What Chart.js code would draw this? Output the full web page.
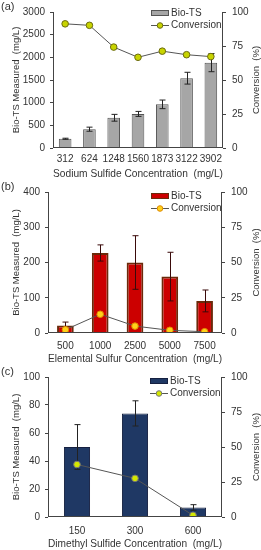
<!DOCTYPE html>
<html><head><meta charset="utf-8">
<script src="https://cdn.jsdelivr.net/npm/chart.js@4"></script>
<style>
html,body{margin:0;padding:0;background:#fff;width:261px;height:550px;overflow:hidden;}
.p{position:absolute;left:0;width:261px;}
</style></head><body>
<div class="p" style="top:0;height:180px"><canvas id="ca" width="261" height="180"></canvas></div>
<div class="p" style="top:180px;height:185px"><canvas id="cb" width="261" height="185"></canvas></div>
<div class="p" style="top:365px;height:185px"><canvas id="cc" width="261" height="185"></canvas></div>
<script>
// Panel (a)
const catsA = ['312','624','1248','1560','1873','3122','3902'];
const bioA = [204, 415, 667, 752, 963, 1540, 1883];
const errA = [12, 45, 75, 55, 95, 130, 200];
const convA = [91.3, 90.2, 74.2, 66.7, 71.2, 68.6, 67.2];
const ticksA = [0, 500, 1000, 1500, 2000, 2500, 3000];
// Panel (b)
const catsB = ['500','1000','2500','5000','7500'];
const bioB = [21, 227, 200, 160, 91];
const errB = [10, 23, 76, 69, 31];
const convB = [2.3, 13.3, 4.9, 1.9, 0.9];
const ticksB = [0, 100, 200, 300, 400];
// Panel (c)
const catsC = ['150','300','600'];
const bioC = [50, 74, 6.8];
const errC = [16, 9, 2];
const convC = [37.5, 27.6, 1.2];
const ticksC = [0, 20, 40, 60, 80, 100];
const ticksConv = [0, 25, 50, 75, 100];

const FONT = 'Liberation Sans, Arial, sans-serif';
const TXT = '#333';

function make(id, cfg) {
  const W = 261, H = cfg.H;
  const errPlugin = {
    id: 'err',
    afterDatasetDraw(chart, args) {
      if (args.index !== 0) return;
      const ctx = chart.ctx, ys = chart.scales.y;
      ctx.save();
      ctx.strokeStyle = cfg.errColor; ctx.lineWidth = 1;
      args.meta.data.forEach((el, i) => {
        const x = Math.round(el.x) + 0.5;
        const v = cfg.bio[i], e = cfg.err[i];
        const yt = ys.getPixelForValue(v + e), yb = ys.getPixelForValue(v - e);
        ctx.beginPath();
        ctx.moveTo(x, yt); ctx.lineTo(x, yb);
        ctx.moveTo(x - 3, yt); ctx.lineTo(x + 3, yt);
        ctx.moveTo(x - 3, yb); ctx.lineTo(x + 3, yb);
        ctx.stroke();
      });
      ctx.restore();
    }
  };
  const deco = {
    id: 'deco',
    afterDraw(chart) {
      const ctx = chart.ctx, a = chart.chartArea;
      ctx.save();
      ctx.fillStyle = TXT;
      ctx.font = '11px ' + FONT;
      ctx.textBaseline = 'middle';
      ctx.textAlign = 'left';
      ctx.fillText(cfg.label, 1, cfg.labelY);
      ctx.font = '9.5px ' + FONT;
      // left title
      ctx.save();
      ctx.translate(16, (a.top + a.bottom) / 2);
      ctx.rotate(-Math.PI / 2);
      ctx.textAlign = 'center';
      ctx.fillText('Bio-TS Measured  (mg/L)', 0, 0);
      ctx.restore();
      // right title
      ctx.save();
      ctx.translate(256, (a.top + a.bottom) / 2);
      ctx.rotate(-Math.PI / 2);
      ctx.textAlign = 'center';
      ctx.fillText('Conversion  (%)', 0, 0);
      ctx.restore();
      // legend
      const lx = cfg.legX, ly1 = cfg.legY, ly2 = cfg.legY + 12;
      ctx.fillStyle = cfg.barFill; ctx.strokeStyle = cfg.barBorder; ctx.lineWidth = 1;
      ctx.fillRect(lx, ly1 - 3, 18, 6); ctx.strokeRect(lx + 0.5, ly1 - 2.5, 17, 5);
      ctx.strokeStyle = '#555'; ctx.beginPath(); ctx.moveTo(lx, ly2 + 0.5); ctx.lineTo(lx + 18, ly2 + 0.5); ctx.stroke();
      ctx.fillStyle = cfg.mkFill; ctx.strokeStyle = cfg.mkBorder;
      ctx.beginPath(); ctx.arc(lx + 9, ly2 + 0.5, 2.8, 0, Math.PI * 2); ctx.fill(); ctx.stroke();
      ctx.fillStyle = TXT; ctx.font = '10px ' + FONT; ctx.textAlign = 'left';
      ctx.fillText('Bio-TS', lx + 20, ly1);
      ctx.fillText('Conversion', lx + 20, ly2);
      // frame lines
      ctx.strokeStyle = '#444'; ctx.lineWidth = 1;
      ctx.beginPath();
      ctx.moveTo(Math.round(a.left) + 0.5, a.top); ctx.lineTo(Math.round(a.left) + 0.5, a.bottom);
      ctx.moveTo(Math.round(a.right) - 0.5, a.top); ctx.lineTo(Math.round(a.right) - 0.5, a.bottom);
      ctx.moveTo(a.left, Math.round(a.bottom) - 0.5); ctx.lineTo(a.right, Math.round(a.bottom) - 0.5);
      ctx.stroke();
      ctx.restore();
    }
  };
  const tickFont = { family: FONT, size: 10 };
  return new Chart(document.getElementById(id), {
    data: {
      labels: cfg.cats,
      datasets: [
        { type: 'bar', label: 'Bio-TS', data: cfg.bio, yAxisID: 'y', order: 1,
          backgroundColor: cfg.barFill, borderColor: cfg.barBorder, borderWidth: cfg.bw,
          barPercentage: cfg.barPct, categoryPercentage: 1 },
        { type: 'line', label: 'Conversion', data: cfg.conv, yAxisID: 'y2', order: 0,
          borderColor: '#555', borderWidth: 1, pointRadius: 3.3, pointBackgroundColor: cfg.mkFill,
          pointBorderColor: cfg.mkBorder, pointBorderWidth: 1, tension: 0 }
      ]
    },
    options: {
      responsive: false, animation: false, devicePixelRatio: 1,
      layout: { padding: { top: cfg.top, left: 0, right: 0, bottom: 0 } },
      plugins: { legend: { display: false }, tooltip: { enabled: false } },
      scales: {
        x: {
          grid: { display: false, drawTicks: false }, border: { display: false },
          ticks: { color: TXT, font: tickFont, padding: cfg.xTickPad, maxRotation: 0, autoSkip: false },
          title: { display: true, text: cfg.xTitle, color: TXT, font: { family: FONT, size: 10.5 }, padding: { top: cfg.xTitlePad, bottom: 0 } },
          afterFit(s) { s.height = H - cfg.bottom; }
        },
        y: {
          position: 'left', min: cfg.yTicks[0], max: cfg.yTicks[cfg.yTicks.length - 1],
          afterBuildTicks(s) { s.ticks = cfg.yTicks.map(v => ({ value: v })); },
          grid: { display: true, drawOnChartArea: false, tickLength: 3, color: '#444' }, border: { display: false },
          ticks: { color: TXT, font: tickFont, padding: 5, callback: v => String(v) },
          afterFit(s) { s.width = cfg.left; }
        },
        y2: {
          position: 'right', min: 0, max: 100,
          afterBuildTicks(s) { s.ticks = ticksConv.map(v => ({ value: v })); },
          grid: { display: true, drawOnChartArea: false, tickLength: 3, color: '#444' }, border: { display: false },
          ticks: { color: TXT, font: tickFont, padding: 6, callback: v => String(v) },
          afterFit(s) { s.width = W - cfg.right; }
        }
      }
    },
    plugins: [errPlugin, deco]
  });
}

make('ca', { H: 180, cats: catsA, bio: bioA, err: errA, conv: convA, yTicks: ticksA,
  top: 6, bottom: 148, left: 53, right: 223, xTickPad: 5, xTitlePad: 8,
  xTitle: 'Sodium Sulfide Concentration  (mg/L)', label: '(a)', labelY: 7,
  barFill: '#a6a6a6', barBorder: '#555555', bw: 1, barPct: 0.52, errColor: '#222',
  mkFill: '#c8d400', mkBorder: '#6b6b10', legX: 151, legY: 13 });
make('cb', { H: 185, cats: catsB, bio: bioB, err: errB, conv: convB, yTicks: ticksB,
  top: 10, bottom: 153, left: 48, right: 222, xTickPad: 7, xTitlePad: 9,
  xTitle: 'Elemental Sulfur Concentration  (mg/L)', label: '(b)', labelY: 7,
  barFill: '#cc0000', barBorder: '#6b2a0a', bw: 2, barPct: 0.48, errColor: '#3a0a0a',
  mkFill: '#ffd21a', mkBorder: '#e08a00', legX: 151, legY: 16 });
make('cc', { H: 185, cats: catsC, bio: bioC, err: errC, conv: convC, yTicks: ticksC,
  top: 10, bottom: 152, left: 48, right: 222, xTickPad: 8, xTitlePad: 9,
  xTitle: 'Dimethyl Sulfide Concentration  (mg/L)', label: '(c)', labelY: 7,
  barFill: '#1f3864', barBorder: '#152040', bw: 1, barPct: 0.45, errColor: '#222',
  mkFill: '#d4e800', mkBorder: '#777', legX: 150, legY: 16 });
</script>
</body></html>
